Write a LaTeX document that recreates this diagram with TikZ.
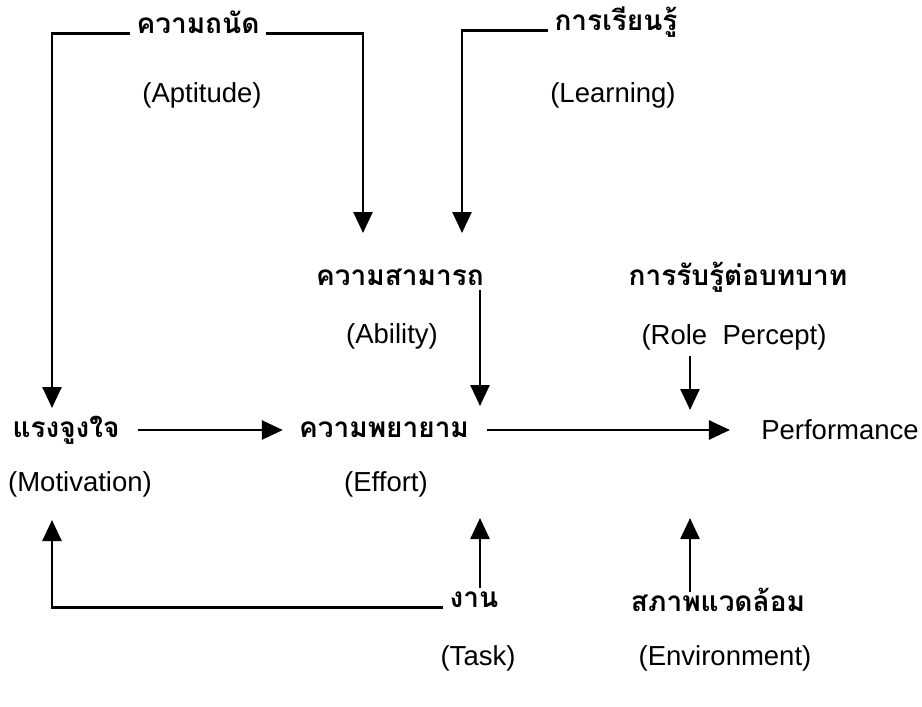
\documentclass[tikz,border=0pt]{standalone}
\usepackage{fontspec}
\setmainfont{Liberation Sans}
\newfontfamily\thaifont[Script=Thai]{Loma}
\usetikzlibrary{arrows.meta,positioning}

\begin{document}
\begin{tikzpicture}[
  x=1pt,y=-1pt,
  line width=2.6pt,
  mythai/.style={
    inner xsep=5pt,
    inner ysep=0pt,
    font=\thaifont\bfseries\fontsize{28}{32}\selectfont
    },
  myeng/.style={
    inner sep=0pt,
    font=\fontsize{27.5}{32}\selectfont
    },
  myarrow/.style={
    -{Triangle[width=19pt,length=21pt]}
  }
]
\useasboundingbox (0,0) rectangle (922,707);

\node[mythai] (apt)   at (198,22)  {ความถนัด};
\node[myeng]  (aptE)  at (202,95)  {(Aptitude)};
\node[mythai] (lrn)   at (616,22)  {การเรียนรู้};
\node[myeng]  (lrnE)  at (613,95)  {(Learning)};
\node[mythai] (abl)   at (400,277) {ความสามารถ};
\node[myeng]  (ablE)  at (392,336) {(Ability)};
\node[mythai] (rol)   at (738,277) {การรับรู้ต่อบทบาท};
\node[myeng]  (rolE)  at (734,337) {(Role\ \ Percept)};
\node[mythai] (mot)   at (66,430)  {แรงจูงใจ};
\node[myeng]  (motE)  at (80,484)  {(Motivation)};
\node[mythai] (eff)   at (384,430) {ความพยายาม};
\node[myeng]  (effE)  at (386,484) {(Effort)};
\node[myeng]  (perf)  at (840,430) {Performance};
\node[mythai] (task)  at (474,600) {งาน};
\node[myeng]  (taskE) at (478,658) {(Task)};
\node[mythai] (env)   at (718,600) {สภาพแวดล้อม};
\node[myeng]  (envE)  at (725,658) {(Environment)};

\coordinate (motin)  at (52,408);
\coordinate (motup)  at (52,520);
\coordinate (ablin1) at (363,233);
\coordinate (ablin2) at (462,233);
\coordinate (ablout) at (480,290);
\coordinate (effin)  at (480,406);
\coordinate (effup)  at (480,518);
\coordinate (taskin) at (480,588);
\coordinate (rolout) at (690,356);
\coordinate (perfin) at (690,410);
\coordinate (perfup) at (690,518);
\coordinate (envout) at (690,592);

\draw[myarrow] (apt.base west) -| (motin);
\draw[myarrow] (apt.base east) -| (ablin1);
\draw[myarrow] (lrn.base west) -| (ablin2);
\draw[myarrow] (ablout) -- (effin);
\draw[myarrow] (rolout) -- (perfin);
\draw[myarrow, shorten <=12pt, shorten >=10pt] (mot.east) -- (mot.east -| eff.west);
\draw[myarrow, shorten <=12pt, shorten >=30pt] (eff.east) -- (eff.east -| perf.west);
\draw[myarrow] (task.base west) -| (motup);
\draw[myarrow] (taskin) -- (effup);
\draw[myarrow] (envout) -- (perfup);

\end{tikzpicture}
\end{document}
